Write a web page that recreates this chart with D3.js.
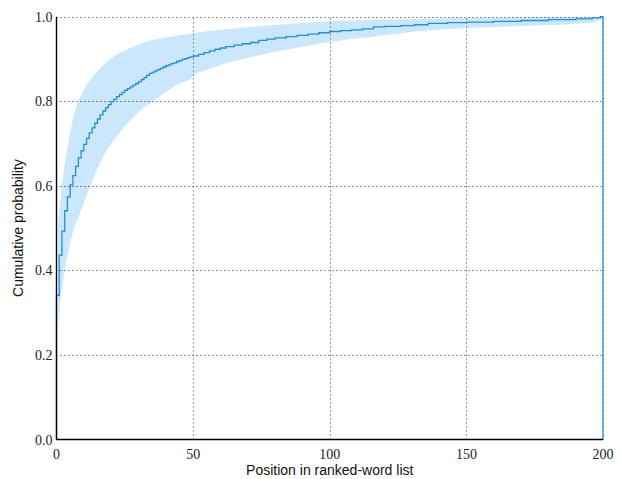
<!DOCTYPE html>
<html>
<head>
<meta charset="utf-8">
<script src="https://cdn.jsdelivr.net/npm/d3@7"></script>
<style>
  html, body { margin: 0; padding: 0; background: #fff; }
  svg { display: block; }
</style>
</head>
<body>
<svg id="chart" width="621" height="479"></svg>
<script>
// Mean cumulative probability: step boundaries (rank) and value held until next boundary
const meanRank = [0,1,2,3,4,5,6,7,8,9,10,11,12,13,14,15,16,17,18,19,20,21,22,23,24,25,26,27,28,29,30,31,32,33,34,35,36,37,38,39,40,41,42,43,44,45,46,47,48,49,50,52,54,56,58,60,62,65,68,71,74,77,80,84,88,92,96,100,104,108,112,116,120,126,131,136,143,150,160,170,180,190,196,199];
const meanValue = [0.341,0.436,0.493,0.541,0.574,0.602,0.624,0.646,0.666,0.683,0.698,0.712,0.725,0.737,0.748,0.758,0.768,0.777,0.785,0.792,0.799,0.805,0.811,0.816,0.821,0.826,0.830,0.834,0.838,0.842,0.846,0.851,0.856,0.861,0.866,0.869,0.872,0.875,0.878,0.881,0.884,0.886,0.889,0.891,0.894,0.896,0.899,0.901,0.903,0.905,0.907,0.911,0.915,0.919,0.923,0.926,0.929,0.933,0.936,0.939,0.944,0.947,0.950,0.953,0.956,0.959,0.962,0.965,0.967,0.969,0.971,0.976,0.977,0.979,0.981,0.984,0.986,0.987,0.989,0.991,0.993,0.995,0.997,1.0];
const xEnd = 200;

// Spread band (upper / lower bounds) read at sampled ranks
const upperRank = [0.6,1,2,3,4,5,6,7.5,10,12.5,15,18,21,24,28,32,37,43,50,60,70,85,100,120,150,175,200];
const upperValue = [0.52,0.54,0.60,0.65,0.69,0.725,0.757,0.792,0.826,0.852,0.871,0.891,0.906,0.917,0.929,0.939,0.947,0.954,0.961,0.969,0.975,0.983,0.989,0.993,0.997,0.999,1.0];
const lowerRank = [0.6,1,2,3,4.5,6,8,10,13,16,19,23,27,31,35.4,40,45,49.5,50.5,55,60,67,75,89,100,116,130,137,150,175,197,200];
const lowerValue = [0.26,0.30,0.355,0.40,0.45,0.49,0.525,0.56,0.61,0.655,0.69,0.725,0.755,0.78,0.80,0.822,0.842,0.855,0.863,0.874,0.886,0.898,0.910,0.928,0.940,0.953,0.964,0.968,0.973,0.979,0.987,0.998];

const xTicks = [0,50,100,150,200];
const yTicks = [0.0,0.2,0.4,0.6,0.8,1.0];
const xLabel = "Position in ranked-word list";
const yLabel = "Cumulative probability";

const svg = d3.select("#chart");
const x = d3.scaleLinear().domain([0,200]).range([56.5,603]);
const y = d3.scaleLinear().domain([0,1]).range([439.5,16.7]);

const lineColor = "#1b8fe3";
const bandColor = "#cbe7fb";

// band
const bandData = upperRank.map((r,i)=>({r, v:upperValue[i]}));
const lowerData = lowerRank.map((r,i)=>({r, v:lowerValue[i]}));
const upperPath = d3.line().x(d=>x(d.r)).y(d=>y(d.v)).curve(d3.curveMonotoneX)(bandData);
const lowerPath = d3.line().x(d=>x(d.r)).y(d=>y(d.v)).curve(d3.curveMonotoneX)(lowerData.slice().reverse());
svg.append("path")
  .attr("d", upperPath + "L" + lowerPath.slice(1) + "Z")
  .attr("fill", bandColor).attr("stroke","none");

// grid
const g = svg.append("g");
yTicks.filter(t=>t>0).forEach(t=>{
  g.append("line").attr("x1",x(0)).attr("x2",x(200)).attr("y1",Math.round(y(t))+0.5).attr("y2",Math.round(y(t))+0.5)
   .attr("stroke","#000").attr("stroke-width",1).attr("stroke-dasharray","1,3").attr("opacity",0.85);
});
xTicks.filter(t=>t>0).forEach(t=>{
  g.append("line").attr("y1",y(0)).attr("y2",y(1)).attr("x1",Math.round(x(t))+0.5).attr("x2",Math.round(x(t))+0.5)
   .attr("stroke","#000").attr("stroke-width",1).attr("stroke-dasharray","1,3").attr("opacity",0.7);
});

// mean step line (closed at both ends down to zero, like a cumulative step histogram)
const stepPts = [{r:0, v:0}].concat(meanRank.map((r,i)=>({r, v:meanValue[i]})), [{r:xEnd, v:meanValue[meanValue.length-1]}]);
const stepPath = d3.line().x(d=>x(d.r)).y(d=>y(d.v)).curve(d3.curveStepAfter)(stepPts);
svg.append("path")
  .attr("d", stepPath + "L" + x(xEnd) + "," + y(0))
  .attr("fill","none").attr("stroke",lineColor).attr("stroke-width",1.3);

// axes spines (left and bottom)
svg.append("line").attr("x1",x(0)).attr("x2",x(0)).attr("y1",y(0)+0.5).attr("y2",y(1))
  .attr("stroke","#000").attr("stroke-width",1.4);
svg.append("line").attr("x1",x(0)).attr("x2",x(200)).attr("y1",y(0)).attr("y2",y(0))
  .attr("stroke","#000").attr("stroke-width",1.4);

// tick labels
const tickFont = "'Liberation Serif', 'DejaVu Serif', serif";
svg.append("g").selectAll("text").data(yTicks).join("text")
  .attr("x", x(0)-4).attr("y", d=>y(d)+5)
  .attr("text-anchor","end").attr("font-family",tickFont).attr("font-size",14).attr("fill","#222")
  .text(d=>d.toFixed(1));
svg.append("g").selectAll("text").data(xTicks).join("text")
  .attr("x", d=>x(d)).attr("y", y(0)+19)
  .attr("text-anchor","middle").attr("font-family",tickFont).attr("font-size",14).attr("fill","#222")
  .text(d=>d);

// axis labels
const labFont = "'Liberation Sans', Arial, sans-serif";
svg.append("text").attr("x", (x(0)+x(200))/2).attr("y", 475)
  .attr("text-anchor","middle").attr("font-family",labFont).attr("font-size",14).attr("fill","#111")
  .text(xLabel);
svg.append("text").attr("transform", `translate(23,${(y(0)+y(1))/2}) rotate(-90)`)
  .attr("text-anchor","middle").attr("font-family",labFont).attr("font-size",14).attr("fill","#111")
  .text(yLabel);
</script>
</body>
</html>
